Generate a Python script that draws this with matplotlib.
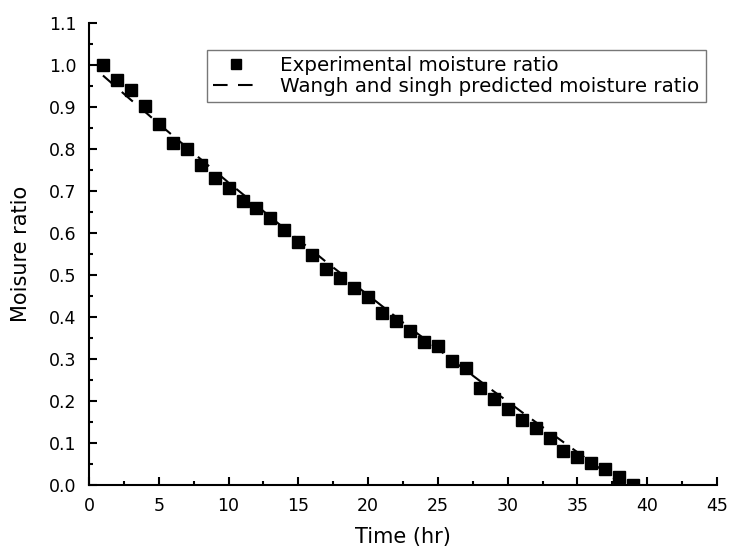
import numpy as np
import matplotlib.pyplot as plt

plt.rcParams['font.family'] = ['DejaVu Sans']

# drying time (hr) and moisture ratio
time_hr = np.arange(1, 40)
mr_exp = [1.000, 0.965, 0.940, 0.902, 0.860, 0.815, 0.800, 0.763, 0.730, 0.707,
          0.677, 0.660, 0.635, 0.608, 0.578, 0.547, 0.515, 0.492, 0.468, 0.447,
          0.410, 0.390, 0.367, 0.340, 0.330, 0.295, 0.278, 0.232, 0.205, 0.180,
          0.155, 0.135, 0.113, 0.080, 0.067, 0.052, 0.037, 0.018, 0.000]

# Wang and Singh model output
time_pred = [1, 2, 3, 4, 5, 6, 7, 8, 9, 10, 11, 12, 13, 14, 15, 16, 17, 18, 19,
             20, 21, 22, 23, 24, 25, 26, 27, 28, 29, 30, 31, 32, 33, 34, 35, 36,
             37, 38, 38.3]
mr_pred = [0.975, 0.946, 0.917, 0.889, 0.860, 0.832, 0.804, 0.776, 0.748, 0.720,
           0.693, 0.666, 0.638, 0.611, 0.584, 0.558, 0.531, 0.505, 0.478, 0.452,
           0.426, 0.400, 0.374, 0.349, 0.324, 0.298, 0.273, 0.248, 0.223, 0.199,
           0.174, 0.150, 0.126, 0.102, 0.078, 0.054, 0.030, 0.007, 0.000]

fig = plt.figure(figsize=(7.32, 5.56), dpi=100)
ax = fig.add_axes([0.1216, 0.1277, 0.8579, 0.8309])

ax.plot(time_hr, mr_exp, 's', color='black', markersize=8.5,
        label='Experimental moisture ratio', zorder=3)
ax.plot(time_pred, mr_pred, '--', color='black', linewidth=1.5, dashes=(7, 5),
        label='Wangh and singh predicted moisture ratio', zorder=2)

ax.set_xlim(0, 45)
ax.set_ylim(0, 1.1)
ax.set_xticks(np.arange(0, 46, 5))
ax.set_xticks(np.arange(2.5, 45, 5), minor=True)
ax.set_yticks(np.arange(0, 1.11, 0.1))
ax.set_yticks(np.arange(0.05, 1.1, 0.1), minor=True)
ax.yaxis.set_major_formatter(plt.FormatStrFormatter('%.1f'))

ax.spines['top'].set_visible(False)
ax.spines['right'].set_visible(False)
for s in ('left', 'bottom'):
    ax.spines[s].set_linewidth(1.5)
ax.tick_params(which='major', direction='in', length=6, width=1.5, labelsize=12.5)
ax.tick_params(which='minor', direction='in', length=3, width=1.5)
ax.tick_params(axis='x', pad=9)
ax.tick_params(axis='y', pad=9)

ax.set_xlabel('Time (hr)', fontsize=15, labelpad=8)
ax.set_ylabel('Moisure ratio', fontsize=15, labelpad=13)

leg = ax.legend(loc='upper left', bbox_to_anchor=(207 / 732, 1 - 50 / 556),
                bbox_transform=fig.transFigure, fontsize=14.3, frameon=True,
                fancybox=False, edgecolor='#555555', borderpad=0.3,
                labelspacing=0.1, handlelength=2.3, handletextpad=1.1,
                markerscale=0.85, borderaxespad=0)
leg.get_frame().set_linewidth(1.0)

fig.savefig('out.png', dpi=100)
